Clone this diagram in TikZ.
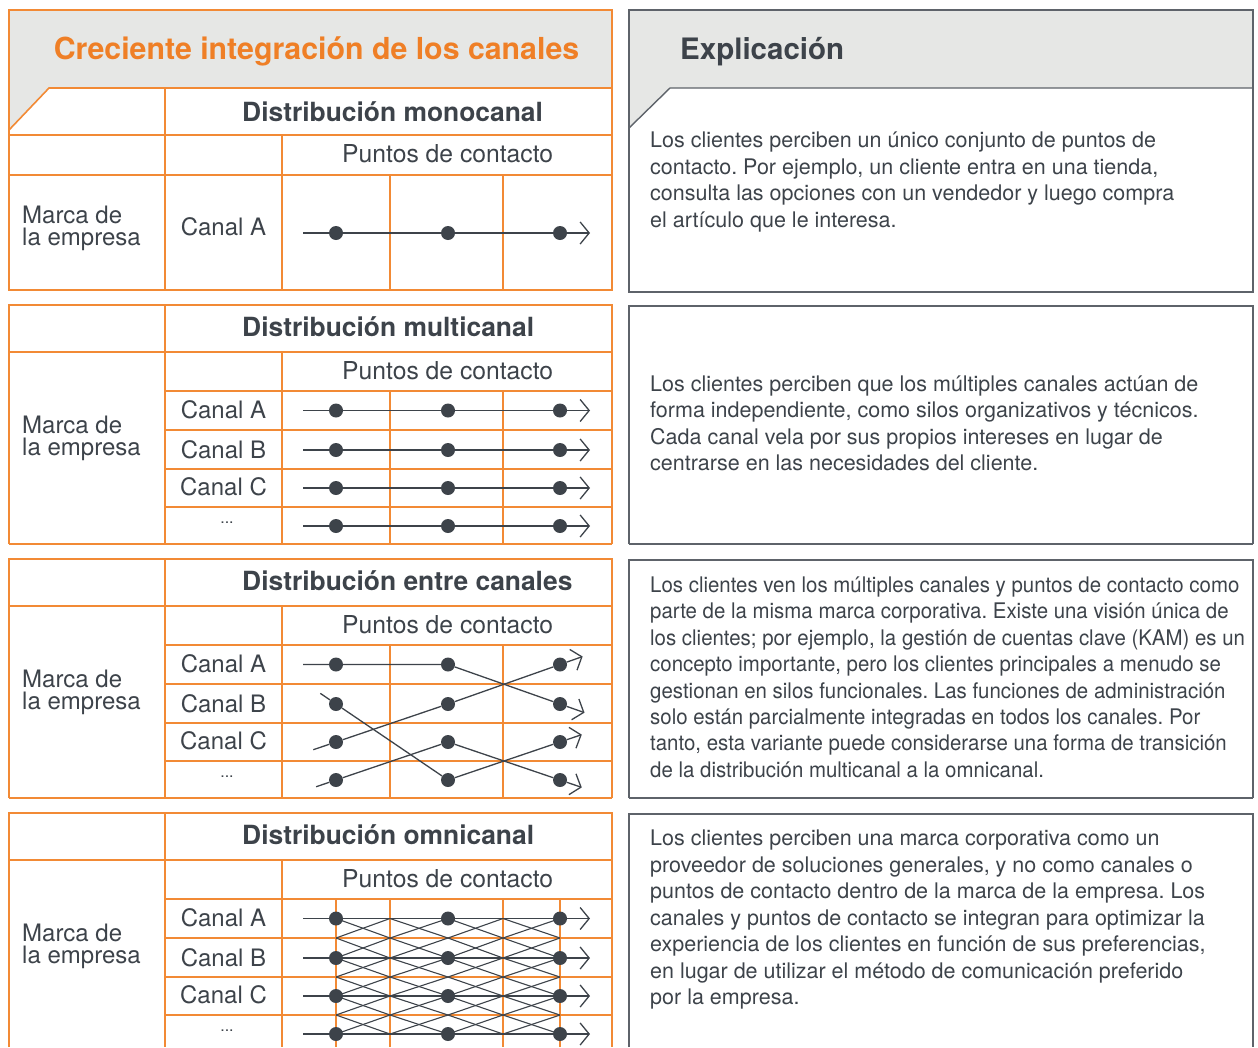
\documentclass[tikz,border=0pt]{standalone}
\usepackage{fontspec}
\setmainfont{TeX Gyre Heros}
\newfontfamily\condfont[FakeStretch=0.95]{TeX Gyre Heros}
\usetikzlibrary{arrows.meta,calc}
\definecolor{orng}{HTML}{F28A35}
\definecolor{orngtxt}{HTML}{EF7F26}
\definecolor{hdr}{HTML}{E6E7E5}
\definecolor{bord}{HTML}{5E636A}
\definecolor{dk}{HTML}{3D434A}
\frenchspacing
\begin{document}
\begin{tikzpicture}[x=1pt,y=-1pt,
  oline/.style={draw=orng,line width=1.6pt},
  gline/.style={draw=bord,line width=1.4pt},
  dotn/.style={circle,fill=dk,inner sep=0pt,minimum size=14pt},
  flow/.style={draw=dk,line width=1.3pt},
  flowar/.style={flow,-{Straight Barb[length=9pt,width=22pt]}},
  latt/.style={draw=dk,line width=1.1pt},
  bigtitle/.style={font={\fontsize{30.3}{35}\selectfont\bfseries},inner sep=0pt},
  subtitle/.style={font={\fontsize{26.4}{30}\selectfont\bfseries},text=dk,inner sep=0pt,anchor=base west},
  cell/.style={font={\fontsize{24}{28}\selectfont},text=dk,inner sep=0pt},
  pts/.style={font={\fontsize{24.7}{28}\selectfont},text=dk,inner sep=0pt,anchor=base west},
  small/.style={font={\fontsize{16}{18}\selectfont},text=dk,inner sep=0pt,anchor=base},
  expl/.style={font={\fontsize{21.5}{26}\selectfont},text=dk,inner sep=0pt,anchor=base west},
  explc/.style={font={\condfont\fontsize{21.5}{26}\selectfont},text=dk,inner sep=0pt,anchor=base west}
]
\useasboundingbox (0,0) rectangle (1258,1047);

% ================= Panel 1 (left) =================
\fill[hdr] (9,10) -- (612,10) -- (612,88) -- (49,88) -- (9,130) -- cycle;
\draw[oline] (9,10) rectangle (612,290);
\draw[oline] (612,88) -- (49,88) -- (9,130);
\draw[oline] (9,135) -- (612,135);
\draw[oline] (9,175) -- (612,175);
\draw[oline] (165,88) -- (165,290);
\draw[oline] (282,135) -- (282,290);
\draw[oline] (390,175) -- (390,290);
\draw[oline] (503,175) -- (503,290);
\node[bigtitle,text=orngtxt,anchor=base] (maintitle) at (316.5,59) {Creciente integración de los canales};
\node[subtitle] (t1) at (242,121) {Distribución monocanal};
\node[pts] (p1) at (342,162) {Puntos de contacto};
\node[cell,anchor=base west] (m1a) at (22,223) {Marca de};
\node[cell,anchor=base west] (m1b) at (22,245) {la empresa};
\node[cell,anchor=base] (c1A) at (223.5,235) {Canal A};
\foreach \c/\x in {1/336,2/448,3/560}
  \node[dotn] (d1-\c A) at (\x,233) {};
\coordinate (s1A) at (303,233);
\coordinate (e1A) at (590,233);
\draw[flowar] (s1A) -- (d1-1A) -- (d1-2A) -- (d1-3A) -- (e1A);

% ================= Panel 1 (right) =================
\fill[hdr] (629,10) -- (1253,10) -- (1253,88) -- (670,88) -- (629,128) -- cycle;
\draw[gline] (629,10) rectangle (1253,292);
\draw[gline] (1253,88) -- (670,88) -- (629,128);
\node[bigtitle,font={\fontsize{29.5}{35}\selectfont\bfseries},text=dk,anchor=base west] (expltitle) at (680,59) {Explicación};
\foreach \t [count=\i] in {{Los clientes perciben un único conjunto de puntos de},{contacto. Por ejemplo, un cliente entra en una tienda,},{consulta las opciones con un vendedor y luego compra},{el artículo que le interesa.}}
  \node[expl] (ea\i) at (650,{147.5+26.6*(\i-1)}) {\t};

% ================= Panels 2-4 (left tables) =================
\foreach \Y/\ttl/\pn in {305/multicanal/2,559/entre canales/3,813/omnicanal/4}{
  \pgfmathsetmacro\B{min(\Y+239,1047)}
  \draw[oline] (9,\B) -- (9,\Y) -- (612,\Y) -- (612,\B);
  \draw[oline] (9,{\Y+47}) -- (612,{\Y+47});
  \foreach \r in {86,125,164,202}
    \draw[oline] (165,{\Y+\r}) -- (612,{\Y+\r});
  \draw[oline] (165,\Y) -- (165,\B);
  \draw[oline] (282,{\Y+47}) -- (282,\B);
  \draw[oline] (390,{\Y+86}) -- (390,\B);
  \draw[oline] (503,{\Y+86}) -- (503,\B);
  \node[subtitle] (t\pn) at (242,{\Y+31}) {Distribución \ttl};
  \node[pts] (p\pn) at (342,{\Y+74}) {Puntos de contacto};
  \node[cell,anchor=base west] (m\pn a) at (22,{\Y+128}) {Marca de};
  \node[cell,anchor=base west] (m\pn b) at (22,{\Y+150}) {la empresa};
  \node[cell,anchor=base] (c\pn A) at (223.5,{\Y+113}) {Canal A};
  \node[cell,anchor=base] (c\pn B) at (223.5,{\Y+153}) {Canal B};
  \node[cell,anchor=base] (c\pn C) at (223.5,{\Y+190}) {Canal C};
  \node[small] (c\pn D) at (227,{\Y+218}) {...};
  % right explanation frame
  \pgfmathsetmacro\RB{min(\Y+239,1047)}
  \draw[gline] (629,\RB) -- (629,{\Y+1}) -- (1253,{\Y+1}) -- (1253,\RB);
}
\draw[oline] (9,544) -- (612,544);
\draw[oline] (9,798) -- (612,798);
\draw[gline] (629,544) -- (1253,544);
\draw[gline] (629,798) -- (1253,798);

% omnicanal extra verticals
\draw[oline] (336,899) -- (336,1047);
\draw[oline] (560,899) -- (560,1047);

% omnicanal lattice
\foreach \xa/\xb in {336/390,390/448,448/503,503/560}
  \foreach \ya/\yb in {918.5/938,938/958,958/977,977/996,996/1015,1015/1034}{
    \draw[latt] (\xa,\ya) -- (\xb,\yb);
    \draw[latt] (\xa,\yb) -- (\xb,\ya);
  }

% dots for panels 2-4
\foreach \Y/\pn in {305/2,559/3,813/4}
  \foreach \c/\x in {1/336,2/448,3/560}
    \foreach \r/\yy in {A/105.5,B/145,C/183,D/221}
      \node[dotn] (d\pn-\c\r) at (\x,{\Y+\yy}) {};

% straight channel flows (multicanal, omnicanal)
\foreach \Y/\pn in {305/2,813/4}
  \foreach \r/\yy in {A/105.5,B/145,C/183,D/221}{
    \coordinate (s\pn\r) at (303,{\Y+\yy});
    \coordinate (e\pn\r) at (590,{\Y+\yy});
    \draw[flowar] (s\pn\r) -- (d\pn-1\r) -- (d\pn-2\r) -- (d\pn-3\r) -- (e\pn\r);
  }

% entre canales flows
\coordinate (s3A) at ($(d3-1A)+(-33,0)$);
\coordinate (e3A) at ($(d3-3B)!-26pt!(d3-2A)$);
\draw[flowar] (s3A) -- (d3-1A) -- (d3-2A) -- (d3-3B) -- (e3A);
\coordinate (s3B) at ($(d3-1B)!-19pt!(d3-2D)$);
\coordinate (e3B) at ($(d3-3C)!-23pt!(d3-2D)$);
\draw[flowar] (s3B) -- (d3-1B) -- (d3-2D) -- (d3-3C) -- (e3B);
\coordinate (s3C) at ($(d3-1C)!-24pt!(d3-2B)$);
\coordinate (e3C) at ($(d3-3A)!-24pt!(d3-2B)$);
\draw[flowar] (s3C) -- (d3-1C) -- (d3-2B) -- (d3-3A) -- (e3C);
\coordinate (s3D) at ($(d3-1D)!-21pt!(d3-2C)$);
\coordinate (e3D) at ($(d3-3D)!-23pt!(d3-2C)$);
\draw[flowar] (s3D) -- (d3-1D) -- (d3-2C) -- (d3-3D) -- (e3D);

% ================= explanation texts 2-4 =================
\foreach \t [count=\i] in {{Los clientes perciben que los múltiples canales actúan de},{forma independiente, como silos organizativos y técnicos.},{Cada canal vela por sus propios intereses en lugar de},{centrarse en las necesidades del cliente.}}
  \node[expl] (eb\i) at (650,{391+26.6*(\i-1)}) {\t};
\foreach \t [count=\i] in {{Los clientes ven los múltiples canales y puntos de contacto como},{parte de la misma marca corporativa. Existe una visión única de},{los clientes; por ejemplo, la gestión de cuentas clave (KAM) es un},{concepto importante, pero los clientes principales a menudo se},{gestionan en silos funcionales. Las funciones de administración},{solo están parcialmente integradas en todos los canales. Por},{tanto, esta variante puede considerarse una forma de transición},{de la distribución multicanal a la omnicanal.}}
  \node[explc] (ec\i) at (650,{592.5+26.4*(\i-1)}) {\t};
\foreach \t [count=\i] in {{Los clientes perciben una marca corporativa como un},{proveedor de soluciones generales, y no como canales o},{puntos de contacto dentro de la marca de la empresa. Los},{canales y puntos de contacto se integran para optimizar la},{experiencia de los clientes en función de sus preferencias,},{en lugar de utilizar el método de comunicación preferido},{por la empresa.}}
  \node[expl] (ed\i) at (650,{845.5+26.55*(\i-1)}) {\t};
\end{tikzpicture}
\end{document}
